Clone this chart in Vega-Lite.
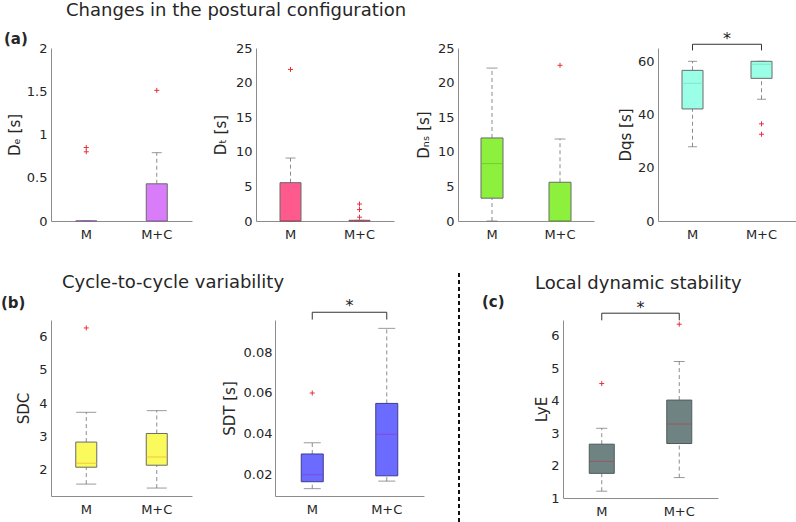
{
  "$schema": "https://vega.github.io/schema/vega-lite/v6.json",
  "background": "white",
  "padding": {"left": 1, "top": 2, "right": 0, "bottom": 0},
  "autosize": {"type": "pad"},
  "config": {
    "font": "DejaVu Sans",
    "view": {"stroke": null},
    "axis": {"domainColor": "#8c8c8c", "labelColor": "#262626", "labelFontSize": 13, "titleColor": "#262626", "titleFontSize": 15, "titleFontWeight": "normal", "ticks": false, "grid": false, "labelFont": "DejaVu Sans", "titleFont": "DejaVu Sans", "labelOverlap": false},
    "axisY": {"labelOverlap": false, "labelBound": false, "labelFlush": false, "tickCount": 12},
    "title": {"fontWeight": "normal", "fontSize": 18, "color": "#262626", "font": "DejaVu Sans"}
  },
  "spacing": 31,
  "vconcat": [
    {
      "bounds": "flush",
      "spacing": 64,
      "title": {"text": "Changes in the postural configuration", "anchor": "start", "frame": "group", "dx": 15, "offset": 11},
      "hconcat": [
        {
          "width": 141, "height": 173,
          "title": {"text": "(a)", "anchor": "start", "frame": "group", "dx": -47, "fontSize": 15, "fontWeight": "bold", "offset": -5},
          "data": {"values": [
            {"group": "M", "lower": 0, "q1": 0, "median": 0, "q3": 0, "upper": 0},
            {"group": "M+C", "lower": 0, "q1": 0, "median": 0, "q3": 0.43, "upper": 0.79}
          ]},
          "encoding": {"x": {"field": "group", "type": "nominal", "scale": {"domain": ["M", "M+C"], "paddingInner": 0, "paddingOuter": 0}, "axis": {"title": null, "labelAngle": 0, "labelPadding": 7}}},
          "layer": [
            {"mark": {"type": "rule", "color": "#8c8c8c", "strokeDash": [4, 3]}, "encoding": {"y": {"field": "lower", "type": "quantitative", "scale": {"domain": [0, 2], "nice": false, "zero": false}, "axis": {"title": "Dₑ [s]", "values": [0, 0.5, 1, 1.5, 2], "tickCount": 12, "format": "~r", "labelOverlap": false, "minExtent": 29, "maxExtent": 29, "titlePadding": 0, "labelPadding": 4}}, "y2": {"field": "q1"}}},
            {"mark": {"type": "rule", "color": "#8c8c8c", "strokeDash": [4, 3]}, "encoding": {"y": {"field": "q3", "type": "quantitative"}, "y2": {"field": "upper"}}},
            {"mark": {"type": "tick", "color": "#6e6e6e", "thickness": 1, "size": 10}, "encoding": {"y": {"field": "lower", "type": "quantitative"}}},
            {"mark": {"type": "tick", "color": "#6e6e6e", "thickness": 1, "size": 10}, "encoding": {"y": {"field": "upper", "type": "quantitative"}}},
            {"mark": {"type": "bar", "width": 21, "fill": "#D87CFA", "stroke": "#6a6a6a", "strokeWidth": 1}, "encoding": {"y": {"field": "q1", "type": "quantitative"}, "y2": {"field": "q3"}}},
            {"mark": {"type": "tick", "color": "#b060d0", "thickness": 1, "size": 21}, "encoding": {"y": {"field": "median", "type": "quantitative"}}},
            {"data": {"values": [{"group": "M", "value": 0.85}, {"group": "M", "value": 0.8}, {"group": "M+C", "value": 1.51}]},
             "mark": {"type": "point", "shape": "M-1,0L1,0M0,-1L0,1", "size": 25, "stroke": "#e8303a", "strokeWidth": 1, "filled": false, "opacity": 1},
             "encoding": {"y": {"field": "value", "type": "quantitative"}}}
          ]
        },
        {
          "width": 138, "height": 173,
          "data": {"values": [
            {"group": "M", "lower": 0, "q1": 0, "median": 0, "q3": 5.54, "upper": 9.1},
            {"group": "M+C", "lower": 0, "q1": 0, "median": 0, "q3": 0.1, "upper": 0.1}
          ]},
          "encoding": {"x": {"field": "group", "type": "nominal", "scale": {"domain": ["M", "M+C"], "paddingInner": 0, "paddingOuter": 0}, "axis": {"title": null, "labelAngle": 0, "labelPadding": 7}}},
          "layer": [
            {"mark": {"type": "rule", "color": "#8c8c8c", "strokeDash": [4, 3]}, "encoding": {"y": {"field": "lower", "type": "quantitative", "scale": {"domain": [0, 25], "nice": false, "zero": false}, "axis": {"title": "Dₜ [s]", "values": [0, 5, 10, 15, 20, 25], "tickCount": 12, "format": "~r", "labelOverlap": false, "minExtent": 28, "maxExtent": 28, "titlePadding": 0, "labelPadding": 4}}, "y2": {"field": "q1"}}},
            {"mark": {"type": "rule", "color": "#8c8c8c", "strokeDash": [4, 3]}, "encoding": {"y": {"field": "q3", "type": "quantitative"}, "y2": {"field": "upper"}}},
            {"mark": {"type": "tick", "color": "#6e6e6e", "thickness": 1, "size": 10}, "encoding": {"y": {"field": "lower", "type": "quantitative"}}},
            {"mark": {"type": "tick", "color": "#6e6e6e", "thickness": 1, "size": 10}, "encoding": {"y": {"field": "upper", "type": "quantitative"}}},
            {"mark": {"type": "bar", "width": 21, "fill": "#FF5A8E", "stroke": "#6a6a6a", "strokeWidth": 1}, "encoding": {"y": {"field": "q1", "type": "quantitative"}, "y2": {"field": "q3"}}},
            {"mark": {"type": "tick", "color": "#c03050", "thickness": 1, "size": 21}, "encoding": {"y": {"field": "median", "type": "quantitative"}}},
            {"data": {"values": [{"group": "M", "value": 21.9}, {"group": "M+C", "value": 2.45}, {"group": "M+C", "value": 1.65}, {"group": "M+C", "value": 0.55}]},
             "mark": {"type": "point", "shape": "M-1,0L1,0M0,-1L0,1", "size": 25, "stroke": "#e8303a", "strokeWidth": 1, "filled": false, "opacity": 1},
             "encoding": {"y": {"field": "value", "type": "quantitative"}}}
          ]
        },
        {
          "width": 136, "height": 173,
          "data": {"values": [
            {"group": "M", "lower": 0, "q1": 3.3, "median": 8.3, "q3": 12.0, "upper": 22.1},
            {"group": "M+C", "lower": 0, "q1": 0, "median": 0, "q3": 5.6, "upper": 11.85}
          ]},
          "encoding": {"x": {"field": "group", "type": "nominal", "scale": {"domain": ["M", "M+C"], "paddingInner": 0, "paddingOuter": 0}, "axis": {"title": null, "labelAngle": 0, "labelPadding": 7}}},
          "layer": [
            {"mark": {"type": "rule", "color": "#8c8c8c", "strokeDash": [4, 3]}, "encoding": {"y": {"field": "lower", "type": "quantitative", "scale": {"domain": [0, 25], "nice": false, "zero": false}, "axis": {"title": "Dₙₛ [s]", "values": [0, 5, 10, 15, 20, 25], "tickCount": 12, "format": "~r", "labelOverlap": false, "minExtent": 27, "maxExtent": 27, "titlePadding": 0, "labelPadding": 4}}, "y2": {"field": "q1"}}},
            {"mark": {"type": "rule", "color": "#8c8c8c", "strokeDash": [4, 3]}, "encoding": {"y": {"field": "q3", "type": "quantitative"}, "y2": {"field": "upper"}}},
            {"mark": {"type": "tick", "color": "#6e6e6e", "thickness": 1, "size": 11}, "encoding": {"y": {"field": "lower", "type": "quantitative"}}},
            {"mark": {"type": "tick", "color": "#6e6e6e", "thickness": 1, "size": 11}, "encoding": {"y": {"field": "upper", "type": "quantitative"}}},
            {"mark": {"type": "bar", "width": 22, "fill": "#8CF03C", "stroke": "#6a6a6a", "strokeWidth": 1}, "encoding": {"y": {"field": "q1", "type": "quantitative"}, "y2": {"field": "q3"}}},
            {"mark": {"type": "tick", "color": "#6cbf2c", "thickness": 1, "size": 22}, "encoding": {"y": {"field": "median", "type": "quantitative"}}},
            {"data": {"values": [{"group": "M+C", "value": 22.5}]},
             "mark": {"type": "point", "shape": "M-1,0L1,0M0,-1L0,1", "size": 25, "stroke": "#e8303a", "strokeWidth": 1, "filled": false, "opacity": 1},
             "encoding": {"y": {"field": "value", "type": "quantitative"}}}
          ]
        },
        {
          "width": 138, "height": 173,
          "data": {"values": [
            {"group": "M", "lower": 27.9, "q1": 42.1, "median": 51.75, "q3": 56.6, "upper": 60},
            {"group": "M+C", "lower": 45.75, "q1": 53.6, "median": 58.9, "q3": 60, "upper": 60}
          ]},
          "encoding": {"x": {"field": "group", "type": "nominal", "scale": {"domain": ["M", "M+C"], "paddingInner": 0, "paddingOuter": 0}, "axis": {"title": null, "labelAngle": 0, "labelPadding": 7}}},
          "layer": [
            {"mark": {"type": "rule", "color": "#8c8c8c", "strokeDash": [4, 3]}, "encoding": {"y": {"field": "lower", "type": "quantitative", "scale": {"domain": [0, 65], "nice": false, "zero": false}, "axis": {"title": "Dqs [s]", "values": [0, 20, 40, 60], "tickCount": 12, "format": "~r", "labelOverlap": false, "minExtent": 25, "maxExtent": 25, "titlePadding": 0, "labelPadding": 4}}, "y2": {"field": "q1"}}},
            {"mark": {"type": "rule", "color": "#8c8c8c", "strokeDash": [4, 3]}, "encoding": {"y": {"field": "q3", "type": "quantitative"}, "y2": {"field": "upper"}}},
            {"mark": {"type": "tick", "color": "#6e6e6e", "thickness": 1, "size": 9}, "encoding": {"y": {"field": "lower", "type": "quantitative"}}},
            {"mark": {"type": "tick", "color": "#6e6e6e", "thickness": 1, "size": 9}, "encoding": {"y": {"field": "upper", "type": "quantitative"}}},
            {"mark": {"type": "bar", "width": 21, "fill": "#9AFFE6", "stroke": "#6a6a6a", "strokeWidth": 1}, "encoding": {"y": {"field": "q1", "type": "quantitative"}, "y2": {"field": "q3"}}},
            {"mark": {"type": "tick", "color": "#78d8c0", "thickness": 1, "size": 21}, "encoding": {"y": {"field": "median", "type": "quantitative"}}},
            {"data": {"values": [{"group": "M+C", "value": 36.5}, {"group": "M+C", "value": 32.6}]},
             "mark": {"type": "point", "shape": "M-1,0L1,0M0,-1L0,1", "size": 25, "stroke": "#e8303a", "strokeWidth": 1, "filled": false, "opacity": 1},
             "encoding": {"y": {"field": "value", "type": "quantitative"}}},
            {"data": {"values": [{"from": "M", "to": "M+C", "level": 66.4, "end": 64.1, "star": 68.2}]},
             "layer": [
               {"mark": {"type": "rule", "color": "#333333"}, "encoding": {"x": {"field": "from", "type": "nominal"}, "x2": {"field": "to"}, "y": {"field": "level", "type": "quantitative"}}},
               {"mark": {"type": "rule", "color": "#333333"}, "encoding": {"x": {"field": "from", "type": "nominal"}, "y": {"field": "level", "type": "quantitative"}, "y2": {"field": "end"}}},
               {"mark": {"type": "rule", "color": "#333333"}, "encoding": {"x": {"field": "to", "type": "nominal"}, "y": {"field": "level", "type": "quantitative"}, "y2": {"field": "end"}}},
               {"mark": {"type": "text", "text": "*", "fontSize": 16, "color": "#222222", "baseline": "middle"}, "encoding": {"x": {"field": "from", "type": "nominal", "bandPosition": 1}, "y": {"field": "star", "type": "quantitative"}}}
             ]}
          ]
        }
      ]
    },
    {
      "bounds": "flush",
      "spacing": 20,
      "hconcat": [
        {
          "width": 141, "height": 176,
          "title": {"text": "(b)", "anchor": "start", "frame": "group", "dx": -50, "fontSize": 15, "fontWeight": "bold", "offset": 9},
          "data": {"values": [
            {"group": "M", "lower": 1.55, "q1": 2.06, "median": 2.18, "q3": 2.82, "upper": 3.72},
            {"group": "M+C", "lower": 1.43, "q1": 2.12, "median": 2.37, "q3": 3.08, "upper": 3.77}
          ]},
          "encoding": {"x": {"field": "group", "type": "nominal", "scale": {"domain": ["M", "M+C"], "paddingInner": 0, "paddingOuter": 0}, "axis": {"title": null, "labelAngle": 0, "labelPadding": 7}}},
          "layer": [
            {"mark": {"type": "rule", "color": "#8c8c8c", "strokeDash": [4, 3]}, "encoding": {"y": {"field": "lower", "type": "quantitative", "scale": {"domain": [1.19, 6.51], "nice": false, "zero": false}, "axis": {"title": "SDC", "values": [2, 3, 4, 5, 6], "tickCount": 12, "format": "~r", "labelOverlap": false, "minExtent": 20, "maxExtent": 20, "titlePadding": 0, "labelPadding": 4}}, "y2": {"field": "q1"}}},
            {"mark": {"type": "rule", "color": "#8c8c8c", "strokeDash": [4, 3]}, "encoding": {"y": {"field": "q3", "type": "quantitative"}, "y2": {"field": "upper"}}},
            {"mark": {"type": "tick", "color": "#6e6e6e", "thickness": 1, "size": 20}, "encoding": {"y": {"field": "lower", "type": "quantitative"}}},
            {"mark": {"type": "tick", "color": "#6e6e6e", "thickness": 1, "size": 20}, "encoding": {"y": {"field": "upper", "type": "quantitative"}}},
            {"mark": {"type": "bar", "width": 21, "fill": "#FAFA5C", "stroke": "#6a6a6a", "strokeWidth": 1}, "encoding": {"y": {"field": "q1", "type": "quantitative"}, "y2": {"field": "q3"}}},
            {"mark": {"type": "tick", "color": "#f0b03a", "thickness": 1, "size": 21}, "encoding": {"y": {"field": "median", "type": "quantitative"}}},
            {"data": {"values": [{"group": "M", "value": 6.27}]},
             "mark": {"type": "point", "shape": "M-1,0L1,0M0,-1L0,1", "size": 25, "stroke": "#e8303a", "strokeWidth": 1, "filled": false, "opacity": 1},
             "encoding": {"y": {"field": "value", "type": "quantitative"}}}
          ]
        },
        {
          "width": 43, "height": 176,
          "title": {"text": "Cycle-to-cycle variability", "anchor": "start", "frame": "group", "dx": -150, "offset": 28},
          "data": {"values": []},
          "mark": "point"
        },
        {
          "width": 149, "height": 176,
          "data": {"values": [
            {"group": "M", "lower": 0.013, "q1": 0.0164, "median": 0.0198, "q3": 0.030, "upper": 0.0355},
            {"group": "M+C", "lower": 0.0167, "q1": 0.0193, "median": 0.0397, "q3": 0.0548, "upper": 0.0916}
          ]},
          "encoding": {"x": {"field": "group", "type": "nominal", "scale": {"domain": ["M", "M+C"], "paddingInner": 0, "paddingOuter": 0}, "axis": {"title": null, "labelAngle": 0, "labelPadding": 7}}},
          "layer": [
            {"mark": {"type": "rule", "color": "#8c8c8c", "strokeDash": [4, 3]}, "encoding": {"y": {"field": "lower", "type": "quantitative", "scale": {"domain": [0.0094, 0.0957], "nice": false, "zero": false}, "axis": {"title": "SDT [s]", "values": [0.02, 0.04, 0.06, 0.08], "tickCount": 12, "format": "~r", "labelOverlap": false, "minExtent": 38, "maxExtent": 38, "titlePadding": 0, "labelPadding": 3}}, "y2": {"field": "q1"}}},
            {"mark": {"type": "rule", "color": "#8c8c8c", "strokeDash": [4, 3]}, "encoding": {"y": {"field": "q3", "type": "quantitative"}, "y2": {"field": "upper"}}},
            {"mark": {"type": "tick", "color": "#6e6e6e", "thickness": 1, "size": 17}, "encoding": {"y": {"field": "lower", "type": "quantitative"}}},
            {"mark": {"type": "tick", "color": "#6e6e6e", "thickness": 1, "size": 17}, "encoding": {"y": {"field": "upper", "type": "quantitative"}}},
            {"mark": {"type": "bar", "width": 22, "fill": "#6B6BFF", "stroke": "#3c3c8c", "strokeWidth": 1}, "encoding": {"y": {"field": "q1", "type": "quantitative"}, "y2": {"field": "q3"}}},
            {"mark": {"type": "tick", "color": "#8a3cc8", "thickness": 1, "size": 22}, "encoding": {"y": {"field": "median", "type": "quantitative"}}},
            {"data": {"values": [{"group": "M", "value": 0.0599}]},
             "mark": {"type": "point", "shape": "M-1,0L1,0M0,-1L0,1", "size": 25, "stroke": "#e8303a", "strokeWidth": 1, "filled": false, "opacity": 1},
             "encoding": {"y": {"field": "value", "type": "quantitative"}}},
            {"data": {"values": [{"from": "M", "to": "M+C", "level": 0.0995, "end": 0.0959, "star": 0.1024}]},
             "layer": [
               {"mark": {"type": "rule", "color": "#333333"}, "encoding": {"x": {"field": "from", "type": "nominal"}, "x2": {"field": "to"}, "y": {"field": "level", "type": "quantitative"}}},
               {"mark": {"type": "rule", "color": "#333333"}, "encoding": {"x": {"field": "from", "type": "nominal"}, "y": {"field": "level", "type": "quantitative"}, "y2": {"field": "end"}}},
               {"mark": {"type": "rule", "color": "#333333"}, "encoding": {"x": {"field": "to", "type": "nominal"}, "y": {"field": "level", "type": "quantitative"}, "y2": {"field": "end"}}},
               {"mark": {"type": "text", "text": "*", "fontSize": 16, "color": "#222222", "baseline": "middle"}, "encoding": {"x": {"field": "from", "type": "nominal", "bandPosition": 1}, "y": {"field": "star", "type": "quantitative"}}}
             ]}
          ]
        },
        {
          "width": 99, "height": 176,
          "title": {"text": "(c)", "anchor": "start", "frame": "group", "dx": 38, "fontSize": 15, "fontWeight": "bold", "offset": -38},
          "data": {"values": [{}]},
          "mark": {"type": "rule", "color": "#111111", "strokeDash": [4, 3], "strokeWidth": 2},
          "encoding": {
            "x": {"datum": 0.1515, "type": "quantitative", "scale": {"domain": [0, 1]}, "axis": null},
            "y": {"datum": 1.267, "type": "quantitative", "scale": {"domain": [0, 1]}, "axis": null},
            "y2": {"datum": -0.16}
          }
        },
        {
          "width": 155, "height": 178,
          "title": {"text": "Local dynamic stability", "anchor": "start", "frame": "group", "dx": -28, "offset": 7},
          "data": {"values": [
            {"group": "M", "lower": 1.21, "q1": 1.76, "median": 2.13, "q3": 2.66, "upper": 3.15},
            {"group": "M+C", "lower": 1.63, "q1": 2.68, "median": 3.28, "q3": 4.02, "upper": 5.21}
          ]},
          "encoding": {"x": {"field": "group", "type": "nominal", "scale": {"domain": ["M", "M+C"], "paddingInner": 0, "paddingOuter": 0}, "axis": {"title": null, "labelAngle": 0, "labelPadding": 7}}},
          "layer": [
            {"mark": {"type": "rule", "color": "#8c8c8c", "strokeDash": [4, 3]}, "encoding": {"y": {"field": "lower", "type": "quantitative", "scale": {"domain": [1, 6.49], "nice": false, "zero": false}, "axis": {"title": "LyE", "values": [1, 2, 3, 4, 5, 6], "tickCount": 12, "format": "~r", "labelOverlap": false, "minExtent": 14, "maxExtent": 14, "titlePadding": 0, "labelPadding": 4}}, "y2": {"field": "q1"}}},
            {"mark": {"type": "rule", "color": "#8c8c8c", "strokeDash": [4, 3]}, "encoding": {"y": {"field": "q3", "type": "quantitative"}, "y2": {"field": "upper"}}},
            {"mark": {"type": "tick", "color": "#6e6e6e", "thickness": 1, "size": 11}, "encoding": {"y": {"field": "lower", "type": "quantitative"}}},
            {"mark": {"type": "tick", "color": "#6e6e6e", "thickness": 1, "size": 11}, "encoding": {"y": {"field": "upper", "type": "quantitative"}}},
            {"mark": {"type": "bar", "width": 25, "fill": "#6F8383", "stroke": "#505a5a", "strokeWidth": 1}, "encoding": {"y": {"field": "q1", "type": "quantitative"}, "y2": {"field": "q3"}}},
            {"mark": {"type": "tick", "color": "#a64a4a", "thickness": 1, "size": 25}, "encoding": {"y": {"field": "median", "type": "quantitative"}}},
            {"data": {"values": [{"group": "M", "value": 4.53}, {"group": "M+C", "value": 6.36}]},
             "mark": {"type": "point", "shape": "M-1,0L1,0M0,-1L0,1", "size": 25, "stroke": "#e8303a", "strokeWidth": 1, "filled": false, "opacity": 1},
             "encoding": {"y": {"field": "value", "type": "quantitative"}}},
            {"data": {"values": [{"from": "M", "to": "M+C", "level": 6.7, "end": 6.48, "star": 6.86}]},
             "layer": [
               {"mark": {"type": "rule", "color": "#333333"}, "encoding": {"x": {"field": "from", "type": "nominal"}, "x2": {"field": "to"}, "y": {"field": "level", "type": "quantitative"}}},
               {"mark": {"type": "rule", "color": "#333333"}, "encoding": {"x": {"field": "from", "type": "nominal"}, "y": {"field": "level", "type": "quantitative"}, "y2": {"field": "end"}}},
               {"mark": {"type": "rule", "color": "#333333"}, "encoding": {"x": {"field": "to", "type": "nominal"}, "y": {"field": "level", "type": "quantitative"}, "y2": {"field": "end"}}},
               {"mark": {"type": "text", "text": "*", "fontSize": 16, "color": "#222222", "baseline": "middle"}, "encoding": {"x": {"field": "from", "type": "nominal", "bandPosition": 1}, "y": {"field": "star", "type": "quantitative"}}}
             ]}
          ]
        }
      ]
    }
  ]
}
